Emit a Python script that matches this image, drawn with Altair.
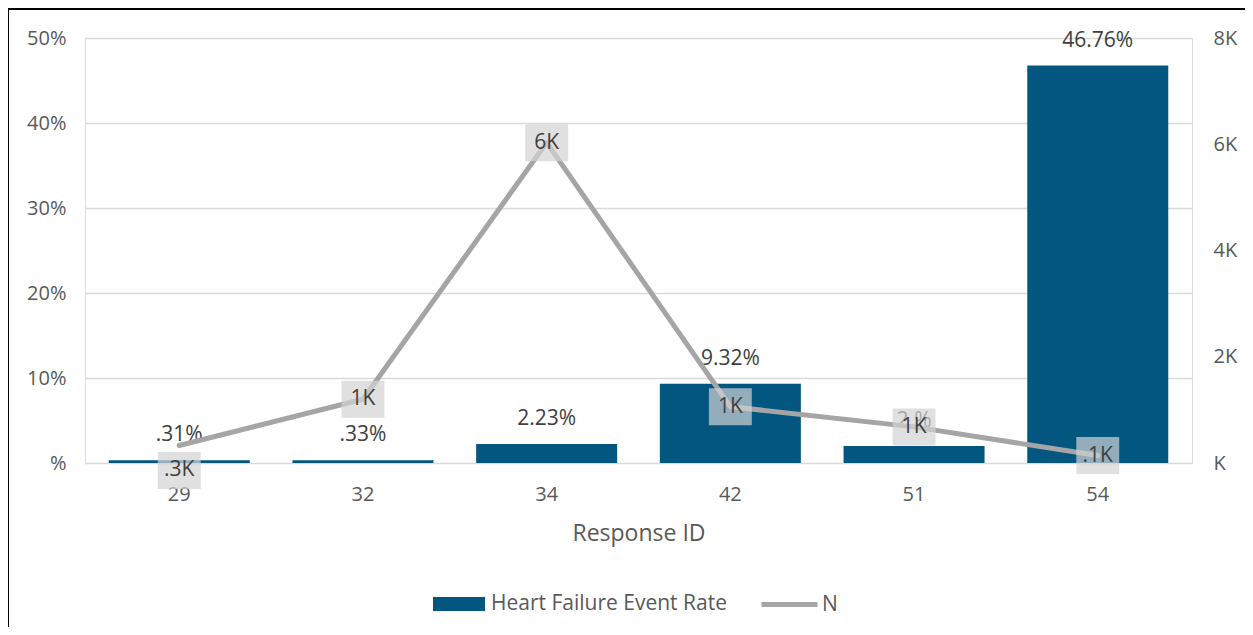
import altair as alt
import pandas as pd

ids = ["29", "32", "34", "42", "51", "54"]
rate_pct = [0.31, 0.33, 2.23, 9.32, 2.0, 46.76]
rate_labels = [".31%", ".33%", "2.23%", "9.32%", "2.%", "46.76%"]
n_vals = [330, 1200, 6030, 1060, 680, 140]
n_labels = [".3K", "1K", "6K", "1K", "1K", ".1K"]

df = pd.DataFrame({
    "id": ids,
    "rate": [r / 100 for r in rate_pct],
    "rate_label": rate_labels,
    "n": n_vals,
    "n_label": n_labels,
    "s1": "Heart Failure Event Rate",
    "s2": "N",
})

FONT = "Open Sans"
TXT = "#404040"
AX = "#595959"

x = alt.X(
    "id:N", sort=ids, title="Response ID",
    scale=alt.Scale(paddingInner=0.234, paddingOuter=0.13),
    axis=alt.Axis(labelAngle=0, labelFontSize=20, labelColor=AX, titleFontSize=23,
                  titleColor=AX, titleFontWeight="normal", domain=False, ticks=False,
                  grid=False, labelPadding=21, titlePadding=18),
)

y_left = alt.Y(
    "rate:Q", title=None, scale=alt.Scale(domain=[0, 0.5]),
    axis=alt.Axis(values=[0, 0.1, 0.2, 0.3, 0.4, 0.5],
                  labelExpr="datum.value == 0 ? '%' : format(datum.value, '.0%')",
                  grid=True, gridColor="#d9d9d9", gridWidth=1.5, domain=False, ticks=False,
                  labelPadding=19, labelFontSize=20, labelColor=AX),
)
y_right = alt.Y(
    "n:Q", title=None, scale=alt.Scale(domain=[0, 8000]),
    axis=alt.Axis(orient="right", values=[0, 2000, 4000, 6000, 8000],
                  labelExpr="datum.value == 0 ? 'K' : format(datum.value / 1000, 'd') + 'K'",
                  grid=False, domain=False, ticks=False, labelPadding=21,
                  labelFontSize=20, labelColor=AX),
)

base = alt.Chart(df)

bars = base.mark_bar(size=141).encode(
    x=x, y=y_left,
    color=alt.Color("s1:N", scale=alt.Scale(range=["#03567F"]),
                    legend=alt.Legend(title=None, orient="none", legendX=348, legendY=540,
                                      symbolType="M-1,-0.27L1,-0.27L1,0.27L-1,0.27Z",
                                      symbolSize=2704, symbolStrokeWidth=0, labelLimit=0,
                                      labelFontSize=21, labelColor=AX, labelOffset=6)),
)
pct_text = base.mark_text(dy=-25, baseline="middle", fontSize=21, color=TXT, font=FONT).encode(
    x=x, y=y_left, text="rate_label:N"
)
left = alt.layer(bars, pct_text)

line = base.mark_line(strokeWidth=5, strokeCap="round", strokeJoin="round").encode(
    x=x, y=y_right,
    stroke=alt.Stroke("s2:N", scale=alt.Scale(range=["#A5A5A5"]),
                      legend=alt.Legend(title=None, orient="none", legendX=674, legendY=536,
                                        symbolType="stroke", symbolSize=3136,
                                        symbolStrokeWidth=5, labelLimit=0,
                                        labelFontSize=21, labelColor=AX, labelOffset=2)),
)
BOX = "M-1.16,-1L1.16,-1L1.16,1L-1.16,1Z"
boxes_main = base.transform_filter("datum.id != '29'").mark_point(
    shape=BOX, size=1369, filled=True, color="#d3d3d3", opacity=0.7, strokeWidth=0,
).encode(x=x, y=y_right)
boxes_low = base.transform_filter("datum.id == '29'").mark_point(
    shape=BOX, size=1369, filled=True, color="#d3d3d3", opacity=0.7, strokeWidth=0, yOffset=25,
).encode(x=x, y=y_right)
n_text_main = base.transform_filter("datum.id != '29'").mark_text(
    baseline="middle", fontSize=21, color=TXT, font=FONT
).encode(x=x, y=y_right, text="n_label:N")
n_text_low = base.transform_filter("datum.id == '29'").mark_text(
    baseline="middle", fontSize=21, color=TXT, font=FONT, yOffset=25
).encode(x=x, y=y_right, text="n_label:N")
right = alt.layer(line, boxes_main, boxes_low, n_text_main, n_text_low)

frame = alt.Chart(pd.DataFrame({"k": [0]})).mark_rule(color="black", strokeWidth=2).encode(
    x=alt.value(-77), x2=alt.value(-77), y=alt.value(-30), y2=alt.value(600)
)
frame_top = alt.Chart(pd.DataFrame({"k": [0]})).mark_rule(color="black", strokeWidth=2).encode(
    x=alt.value(-77), x2=alt.value(1180), y=alt.value(-29), y2=alt.value(-29)
)

chart = alt.layer(left, right, frame, frame_top).resolve_scale(y="independent").properties(
    width=1107, height=425,
    autosize=alt.AutoSizeParams(type="none"),
    padding={"left": 77, "top": 30, "right": 53, "bottom": 164},
    background="white",
).configure_view(strokeWidth=0).configure(font=FONT)

chart.save("out.html", embed_options={"renderer": "svg", "actions": False})
